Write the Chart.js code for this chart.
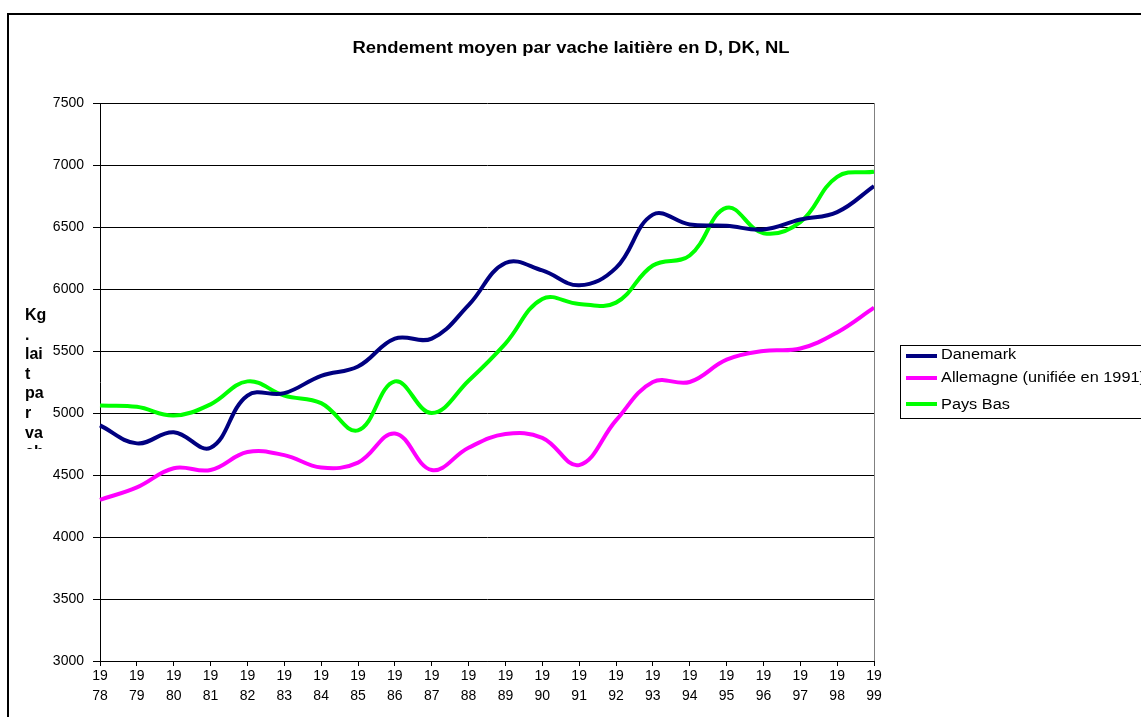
<!DOCTYPE html>
<html>
<head>
<meta charset="utf-8">
<script src="https://cdn.jsdelivr.net/npm/chart.js@4/dist/chart.umd.min.js"></script>
<style>
  html, body { margin: 0; padding: 0; background: #fff; }
  canvas { display: block; }
</style>
</head>
<body>
<canvas id="c" width="1141" height="717"></canvas>
<script>
// years 1978..1999, shown as "19" over the last two digits
const years = [1978, 1979, 1980, 1981, 1982, 1983, 1984, 1985, 1986, 1987, 1988,
               1989, 1990, 1991, 1992, 1993, 1994, 1995, 1996, 1997, 1998, 1999];

// kg of milk per cow
const danemark = [4900, 4755, 4845, 4720, 5140, 5160, 5300, 5375, 5600, 5600, 5870,
                  6210, 6150, 6030, 6170, 6600, 6520, 6510, 6480, 6560, 6620, 6830];
const allemagne = [4300, 4400, 4555, 4540, 4685, 4660, 4560, 4600, 4835, 4540, 4720,
                   4830, 4800, 4580, 4940, 5250, 5250, 5430, 5500, 5520, 5650, 5850];
const paysBas = [5060, 5050, 4980, 5070, 5255, 5140, 5080, 4860, 5255, 5000, 5260,
                 5560, 5920, 5880, 5890, 6190, 6270, 6655, 6450, 6540, 6905, 6945];

const yTicks = [3000, 3500, 4000, 4500, 5000, 5500, 6000, 6500, 7000, 7500];

const titleText = 'Rendement moyen par vache laitière en D, DK, NL';
// axis title wraps in a very narrow box and gets cut off
const yTitleLines = ['Kg', '.', 'lai', 't', 'pa', 'r', 'va', 'ch'];

const FONT = '"Liberation Sans", Arial, sans-serif';

// text in this sheet is a bit wider than the font; stretch to a width
function wideText(ctx, text, x, y, width, align) {
  const w = ctx.measureText(text).width;
  const k = width / w;
  ctx.save();
  ctx.translate(x, y);
  ctx.scale(k, 1);
  ctx.textAlign = align;
  ctx.fillText(text, 0, 0);
  ctx.restore();
}

const decor = {
  id: 'decor',
  beforeDraw(chart) {
    const ctx = chart.ctx;
    ctx.save();
    ctx.fillStyle = '#fff';
    ctx.fillRect(0, 0, chart.width, chart.height);
    // outer frame
    ctx.strokeStyle = '#000';
    ctx.lineWidth = 2;
    ctx.strokeRect(8, 14, 1160, 740);
    ctx.restore();
  },
  afterDraw(chart) {
    const ctx = chart.ctx;
    const area = chart.chartArea;
    ctx.save();

    // right edge of plot area
    ctx.strokeStyle = '#808080';
    ctx.lineWidth = 1;
    ctx.beginPath();
    ctx.moveTo(Math.round(area.right) + 0.5, area.top);
    ctx.lineTo(Math.round(area.right) + 0.5, area.bottom);
    ctx.stroke();

    // title
    ctx.fillStyle = '#000';
    ctx.textBaseline = 'alphabetic';
    ctx.font = 'bold 16px ' + FONT;
    wideText(ctx, titleText, 571, 53, 437, 'center');

    // y axis title, clipped
    ctx.save();
    ctx.beginPath();
    ctx.rect(15, 300, 70, 149);
    ctx.clip();
    ctx.font = 'bold 16px ' + FONT;
    ctx.textAlign = 'left';
    yTitleLines.forEach((s, i) => ctx.fillText(s, 25, 320 + i * 19.6));
    ctx.restore();

    // legend box
    const lx = 900, ly = 345;
    ctx.fillStyle = '#fff';
    ctx.fillRect(lx, ly, 260, 73);
    ctx.strokeStyle = '#000';
    ctx.lineWidth = 1;
    ctx.strokeRect(lx + 0.5, ly + 0.5, 260, 73);
    ctx.font = '14px ' + FONT;
    const lines = [356, 378, 404];
    const bases = [359, 382, 409];
    const k = 204 / ctx.measureText(chart.data.datasets[1].label).width;
    chart.data.datasets.forEach((ds, i) => {
      ctx.strokeStyle = ds.borderColor;
      ctx.lineWidth = 4;
      ctx.beginPath();
      ctx.moveTo(906, lines[i]);
      ctx.lineTo(937, lines[i]);
      ctx.stroke();
      ctx.fillStyle = '#000';
      wideText(ctx, ds.label, 941, bases[i], ctx.measureText(ds.label).width * k, 'left');
    });
    ctx.restore();
  }
};

const line = (label, data, color) => ({
  label, data,
  borderColor: color,
  backgroundColor: color,
  borderWidth: 4,
  pointRadius: 0,
  tension: 0.4,
  fill: false
});

new Chart(document.getElementById('c'), {
  type: 'line',
  data: {
    labels: years.map(y => ['19', String(y).slice(2)]),
    datasets: [
      line('Danemark', danemark, '#000080'),
      line('Allemagne (unifiée en 1991)', allemagne, '#FF00FF'),
      line('Pays Bas', paysBas, '#00FF00')
    ]
  },
  options: {
    responsive: false,
    animation: false,
    layout: { padding: { left: 0, top: 103, right: 267, bottom: 0 } },
    plugins: {
      legend: { display: false },
      title: { display: false },
      tooltip: { enabled: false }
    },
    scales: {
      x: {
        offset: false,
        afterFit: s => { s.height = 56; },
        grid: { drawOnChartArea: false, drawTicks: true, tickLength: 5, color: '#000' },
        border: { color: '#000', width: 1 },
        ticks: {
          color: '#000', padding: 0, maxRotation: 0, autoSkip: false,
          font: { family: FONT, size: 14, lineHeight: 1.43 }
        }
      },
      y: {
        min: 3000, max: 7500,
        afterFit: s => { s.width = 100; },
        afterBuildTicks: s => { s.ticks = yTicks.map(v => ({ value: v })); },
        grid: { color: '#000', lineWidth: 1, tickLength: 7 },
        border: { color: '#000', width: 1 },
        ticks: {
          color: '#000', padding: 9,
          font: { family: FONT, size: 14 },
          callback: v => String(v)
        }
      }
    }
  },
  plugins: [decor]
});
</script>
</body>
</html>
